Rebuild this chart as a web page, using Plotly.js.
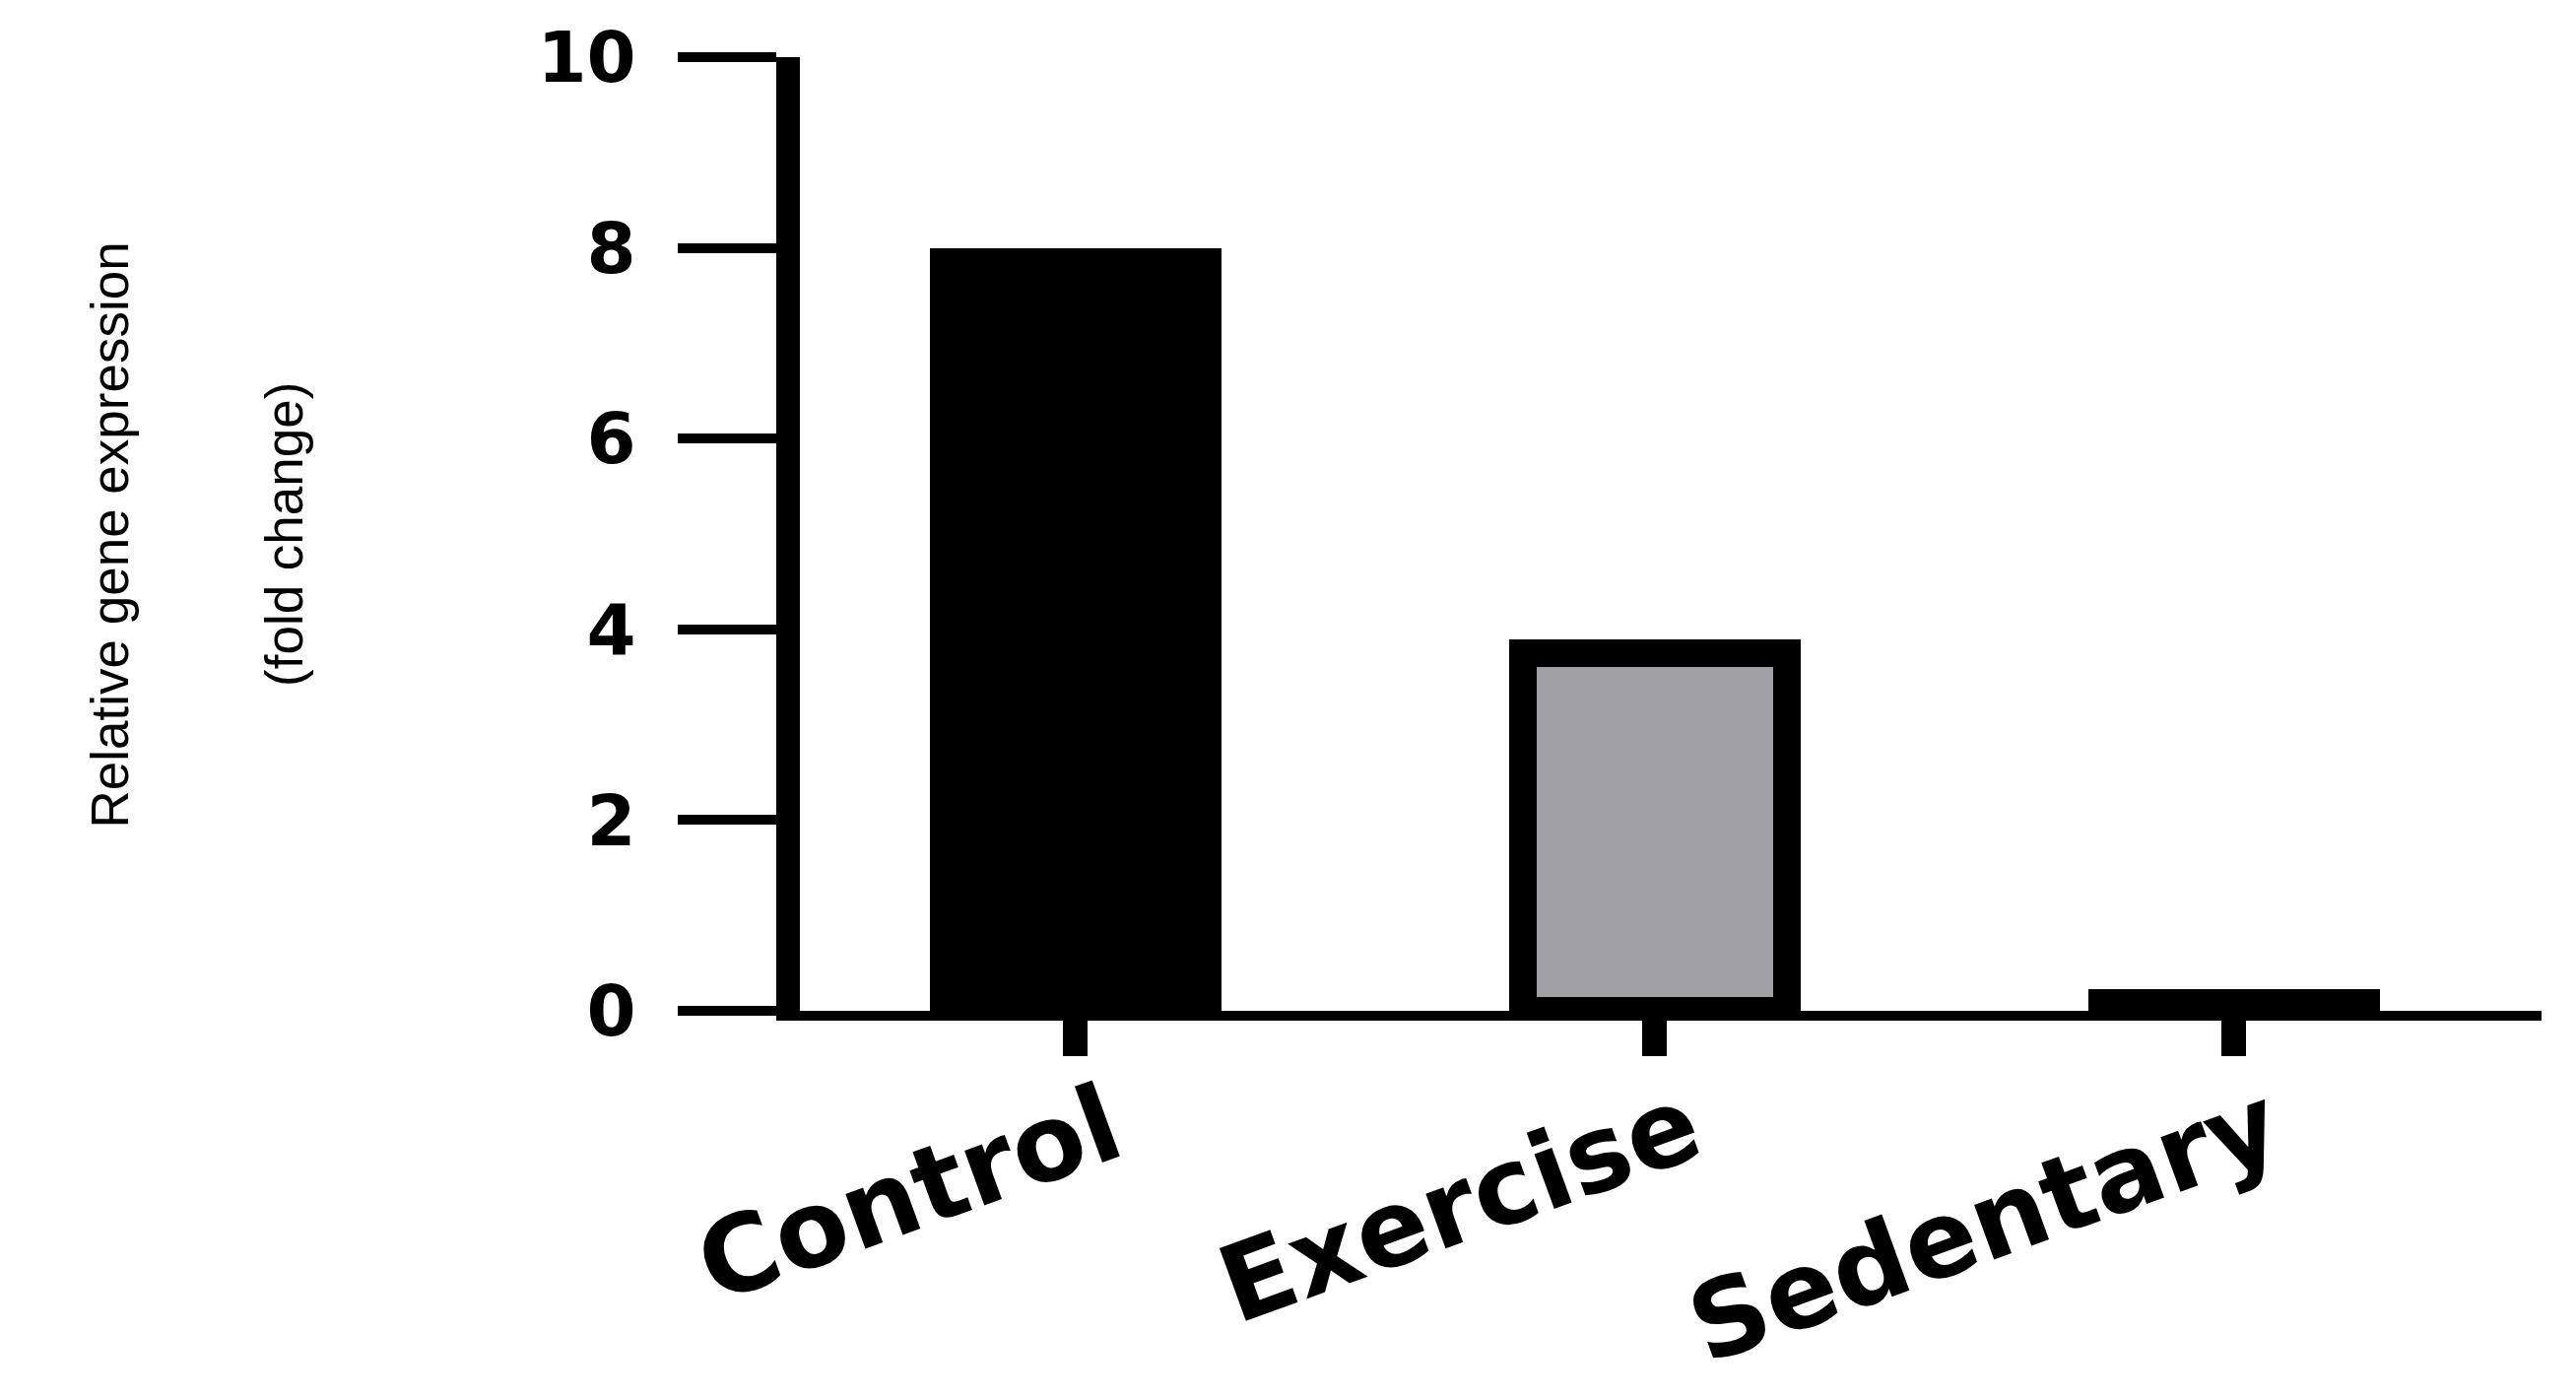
<!DOCTYPE html>
<html>
<head>
<meta charset="utf-8">
<script src="https://cdn.plot.ly/plotly-3.0.1.min.js"></script>
<style>
    html, body { margin: 0; padding: 0; background: #ffffff; }
    #chart { width: 2615px; height: 1419px; }
</style>
</head>
<body>
<div id="chart"></div>
<script>
const groups = ['Control', 'Exercise', 'Sedentary'];
const foldChange = [7.85, 3.75, 0.08];
const barColors = ['#000000', '#a1a0a5', '#ffffff'];
const yTickValues = [0, 2, 4, 6, 8, 10];
const yTitleLines = ['Relative gene expression', '(fold change)'];

function createGeneExpressionChart(containerId) {
    try {
        const container = document.getElementById(containerId);
        if (!container) {
            console.error(`Container ${containerId} not found`);
            return;
        }

        const titleFont = { family: 'Liberation Sans, Arial, sans-serif', size: 53, color: '#000000' };

        const layout = {
            width: 2615,
            height: 1419,
            margin: { t: 58, r: 35, b: 393, l: 812 },
            paper_bgcolor: '#ffffff',
            plot_bgcolor: '#ffffff',
            showlegend: false,
            bargap: 0,
            xaxis: {
                type: 'category',
                range: [-0.476, 2.531],
                showline: true,
                linecolor: '#000000',
                linewidth: 10,
                ticks: 'outside',
                ticklen: 36,
                tickwidth: 25,
                tickcolor: '#000000',
                tickangle: -20,
                ticklabelstandoff: -28,
                ticklabelshift: 35,
                tickfont: { family: 'DejaVu Sans', size: 108, color: '#000000', weight: 'bold' },
                showgrid: false,
                zeroline: false
            },
            yaxis: {
                range: [0, 10],
                tickvals: yTickValues,
                showline: true,
                linecolor: '#000000',
                linewidth: 24,
                ticks: 'outside',
                ticklen: 100,
                tickwidth: 10,
                tickcolor: '#000000',
                ticklabelstandoff: 28,
                tickfont: { family: 'DejaVu Sans', size: 72, color: '#000000', weight: 'bold' },
                showgrid: false,
                zeroline: false
            },
            // two-line axis title, placed as separate lines to keep the wide line gap
            annotations: [
                {
                    text: yTitleLines[0],
                    xref: 'paper', yref: 'paper',
                    x: -0.3965, y: 0.4995,
                    xanchor: 'center', yanchor: 'middle',
                    textangle: -90,
                    showarrow: false,
                    font: titleFont
                },
                {
                    text: yTitleLines[1],
                    xref: 'paper', yref: 'paper',
                    x: -0.2964, y: 0.5,
                    xanchor: 'center', yanchor: 'middle',
                    textangle: -90,
                    showarrow: false,
                    font: titleFont
                }
            ]
        };

        Plotly.newPlot(containerId, [
            {
                type: 'bar',
                x: groups,
                y: foldChange,
                width: 0.455,
                marker: {
                    color: barColors,
                    line: { color: '#000000', width: 28 }
                },
                hoverinfo: 'x+y'
            }
        ], layout, {
            displayModeBar: false,
            responsive: false
        });
    } catch (error) {
        console.error('Error creating gene expression chart:', error);
    }
}

createGeneExpressionChart('chart');
</script>
</body>
</html>
